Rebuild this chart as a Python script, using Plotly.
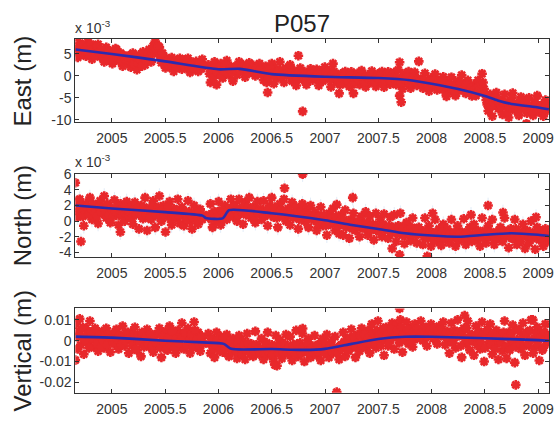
import plotly.graph_objects as go

# ---------------- data ----------------
title = "P057"
start_year = 2004.66          # first weekly epoch
week = 7 / 365.25             # weekly sampling (years)

# East (units of 1e-3 m): weekly epochs, rows ~ quarter years
east_mm = [
    6.5, 4.2, 7.5, 5.0, 6.8, 4.5, 7.8, 5.5, 3.8, 6.9, 5.2, 7.2, 4.3,
    5.8, 3.2, 6.5, 4.0, 5.5, 2.8, 4.8, 6.0, 3.5, 5.2, 2.2, 4.5, 3.0,
    4.6, 2.0, 5.2, 3.3, 1.4, 4.8, 3.0, 5.5, 2.5, 4.2, 6.0, 3.2, 6.8,
    7.8, 5.0, 6.5, 3.0, 4.5, 1.8, 3.8, 2.2, 4.2, 1.0, 3.5, 2.0, 4.0,
    1.5, 3.6, 2.2, 4.0, 0.8, 2.8, 1.6, 3.3, 1.0, 2.5, 3.8, None, None,
    2.5, -1.5, 1.0, 3.2, -2.0, 0.5, 2.8, -0.5, 1.8, 3.5, 0.2, 2.2, -1.2,
    2.0, 0.2, 3.2, 1.2, 2.6, -0.3, 1.8, 3.0, 0.8, 2.4, 0.0, 1.5, 2.8,
    1.0, -1.0, 2.2, -3.8, 0.5, 2.8, -1.8, 1.5, -0.5, 3.2, 0.2, -1.5, 1.8,
    0.8, 2.5, -1.2, 1.2, -2.2, 0.3, 1.8, -0.8, 1.0, -2.0, 0.5, 1.6, -1.0,
    -0.5, 1.5, -2.2, 0.8, -1.2, 2.0, -0.2, 1.2, -2.5, 2.8, 0.4, -1.5, -4.0,
    0.5, -1.8, 1.0, -0.6, -2.4, 0.9, -4.0, -1.2, 0.6, -2.0, 1.2, -0.8, -2.5,
    0.2, -1.5, 1.1, -0.8, -2.4, 0.5, -1.2, 1.0, -2.6, -0.2, 0.9, -1.9, -0.5,
    0.8, -2.0, 1.4, -0.6, -3.0, 0.5, -1.5, 1.0, -2.8, -0.5, 0.8, -2.2, -1.0,
    -0.8, -2.8, 0.6, -1.5, -3.5, -0.5, -2.2, 0.4, -3.2, -1.2, -2.8, -0.2, -3.8,
    -1.5, -3.6, -0.3, -2.5, -4.5, -1.2, -3.2, 0.2, -2.2, -4.0, -1.0, -3.0, -4.6,
    -2.0, -4.5, -1.0, -3.5, 0.5, -3.0, -5.5, -8.0, -4.2, -9.2, -6.0, -3.8, -7.5,
    -5.5, -8.8, -4.2, -7.0, -9.5, -5.8, -3.9, -7.8, -6.2, -9.0, -4.8, -7.2, -5.5,
    -8.5, -5.0, -7.5, -9.0, -6.0, -4.5, -8.2, -6.8, -9.2, -5.5, -7.8,
]
# East, mid-week epochs (half a week later)
east_mid_mm = [
    5.5, 6.2, 4.8, 7.0, 5.8, 6.5, 5.0, 7.2, 6.0, 4.6, 6.8, 5.4, 6.0,
    4.2, 5.0, 3.8, 5.6, 4.6, 3.6, 6.2, 4.0, 5.0, 3.4, 4.6, 3.8, 4.4,
    3.5, 4.0, 2.8, 4.4, 3.0, 3.8, 2.2, 4.0, 3.6, 5.0, 4.4, 5.2, 5.6,
    6.0, 6.8, 4.6, 5.2, 3.0, 3.4, 2.6, 3.2, 2.4, 2.8, 2.2, 3.0, 2.6,
    2.6, 2.0, 3.0, 2.2, 2.4, 1.8, 2.6, 2.0, 2.8, 1.6, 2.2, None, None,
    0.5, 1.5, -0.5, 1.8, 0.8, 2.0, 0.0, 1.2, 2.5, 0.6, 1.6, 0.8, 1.4,
    1.4, 2.2, 1.0, 2.0, 1.2, 1.6, 0.8, 2.0, 1.6, 1.0, 1.8, 0.6, 1.4,
    0.4, 0.8, -1.5, -0.5, 1.6, 0.6, 0.0, 0.8, 1.2, 0.0, 1.4, 0.4, 0.6,
    0.0, 0.6, -0.4, 0.2, -0.8, 0.8, 0.2, -0.2, 0.4, -0.6, 0.0, 0.4, -0.2,
    -0.4, 0.2, -0.8, 0.4, -0.6, 0.8, 0.0, -0.8, 0.4, 1.0, -0.5, -1.0, -2.0,
    -0.6, 0.0, -0.8, -1.2, 0.0, -2.0, -1.5, -0.4, -0.8, -0.2, -0.6, -1.4, -0.2,
    -0.6, -0.2, -1.0, -1.4, -0.4, -0.8, 0.0, -1.2, -1.0, -0.2, -0.8, -1.2, -0.4,
    -0.8, -0.4, -1.2, -1.6, -0.6, -0.8, -0.2, -1.6, -1.0, -0.4, -1.4, -0.6, -1.2,
    -1.6, -1.0, -2.0, -2.4, -1.2, -1.8, -1.0, -2.0, -1.6, -2.4, -1.2, -2.0, -2.6,
    -2.6, -2.0, -3.0, -3.4, -2.4, -2.8, -1.6, -3.2, -2.6, -2.0, -3.6, -2.8, -3.4,
    -3.2, -2.8, -2.4, -1.8, -1.5, -4.2, -6.5, -5.5, -7.0, -6.0, -5.0, -5.6, -6.2,
    -7.0, -6.2, -6.0, -8.2, -7.2, -5.0, -6.5, -7.0, -8.0, -6.0, -6.8, -6.4, -7.5,
    -6.8, -7.0, -8.0, -7.2, -6.6, -7.6, -7.0, -8.0, -7.4, -6.6, -7.2,
]
east_out_t = [2004.657, 2006.75, 2006.79, 2007.70, 2007.70, 2007.715, 2007.88, 2008.14, 2008.89]
east_out_mm = [8.9, 4.6, -8.1, 3.1, -4.5, -6.0, 3.3, -4.7, -10.9]
east_fit_t = [2004.66, 2005.0, 2005.5, 2006.0, 2006.2, 2006.5, 2007.0, 2007.5, 2007.8,
              2008.0, 2008.25, 2008.5, 2008.62, 2008.75, 2009.0, 2009.1]
east_fit_mm = [6.0, 5.0, 3.3, 1.5, 1.6, 0.4, -0.2, -0.5, -1.0,
               -1.8, -3.0, -4.6, -5.6, -6.4, -7.2, -7.6]

# North (units of 1e-3 m)
north_mm = [
    2.5, 0.5, 2.8, 1.2, -0.6, 2.2, 1.0, 3.0, 0.2, 2.0, 1.5, -0.3, 2.6,
    1.0, 3.2, 0.4, 2.0, -0.2, 1.5, 2.7, 0.8, -0.5, 2.2, 1.2, 0.0, 2.5,
    0.6, 1.8, -0.4, 2.4, 1.0, -1.0, 2.0, 0.3, 3.0, -1.2, 1.5, 0.2, 2.6,
    -0.8, 1.2, 3.2, 0.0, 2.0, -1.4, 0.8, 2.5, -0.5, 1.6, 0.4, 2.8, -0.3,
    1.8, -0.6, 1.2, 2.6, 0.0, -1.0, 2.0, 0.6, -0.4, 1.5, 0.2, None, None,
    0.5, 2.2, -0.8, 1.2, 0.0, 2.5, -0.5, 1.0, 2.0, 0.2, 1.6, 2.8, 0.6,
    2.0, 0.0, 2.8, 1.0, -0.4, 2.4, 1.4, 3.0, 0.4, 1.8, -0.2, 2.5, 1.1,
    0.2, 2.6, 1.0, -0.6, 2.0, 3.0, 0.5, 1.5, -0.8, 2.2, 0.8, 2.8, 0.0,
    1.6, -0.5, 2.4, 0.6, 1.8, -1.0, 1.2, 2.2, 0.0, 1.5, -0.8, 2.0, 0.4,
    1.2, -1.2, 0.6, 1.8, -0.6, 0.2, -1.8, 1.0, -0.2, 1.6, -1.2, 0.4, -1.6,
    0.8, -1.8, 1.4, -0.6, -2.2, 0.2, 1.0, -1.2, -0.2, -2.0, 0.6, -0.8, 1.2,
    -1.8, 0.6, -0.5, -2.4, 1.0, -1.2, 0.2, -2.0, 0.9, -0.8, -2.2, 0.5, -1.5,
    0.8, -2.6, -0.6, 1.0, -1.8, -2.9, -0.2, -1.2, -2.5, 0.4, -1.6, -2.8, -0.8,
    -1.2, -3.0, 0.4, -2.0, -0.6, -3.2, -1.5, 0.2, -2.6, -1.0, -3.1, -0.4, -2.2,
    -1.0, -2.8, 0.2, -1.8, -3.2, -0.6, -2.4, -1.4, 0.3, -3.0, -2.0, -0.8, -2.6,
    -0.4, -2.4, -1.2, -3.2, 0.4, -1.8, -2.8, -0.6, -2.0, 0.2, -3.0, -1.4, -2.2,
    -0.8, -2.6, 0.4, -1.6, -3.4, -1.0, -2.2, 0.2, -3.0, -1.4, -2.6, -0.4, -3.5,
    -1.2, -2.8, 0.0, -2.0, -3.6, -0.8, -2.4, -1.6, -3.2, -1.0, -2.6,
]
north_mid_mm = [
    1.6, 1.2, 2.0, 0.6, 1.4, 1.8, 0.8, 1.6, 2.2, 1.0, 0.6, 1.8, 1.2,
    1.8, 1.4, 2.2, 0.8, 1.6, 0.6, 1.2, 2.0, 1.4, 0.6, 1.8, 1.0, 1.4,
    1.2, 0.4, 1.4, 0.8, 1.6, 1.0, 0.6, 1.8, 0.8, 1.4, 0.4, 2.0, 1.0,
    0.8, 1.8, 0.4, 1.4, 0.6, 1.2, 1.8, 0.2, 1.0, 0.6, 1.4, 0.8, 1.2,
    0.6, 1.0, 0.2, 1.2, 0.8, 0.4, 1.0, 0.2, 1.2, 0.6, 0.8, None, None,
    0.8, 0.2, 1.0, 0.4, 1.2, 0.6, 1.4, 0.2, 0.8, 1.2, 0.6, 1.4, 1.8,
    1.4, 0.8, 1.6, 1.2, 2.0, 0.8, 1.8, 1.2, 1.6, 0.6, 1.4, 1.0, 1.6,
    1.2, 0.6, 1.4, 1.6, 0.8, 1.2, 1.8, 0.4, 1.0, 1.4, 0.6, 1.2, 1.0,
    0.8, 1.2, 0.4, 1.0, 0.6, 0.2, 1.2, 0.6, 1.0, 0.4, 0.8, 0.2, 0.6,
    0.2, -0.4, 0.6, 0.0, 0.8, -0.6, 0.2, -0.4, 0.4, -0.2, 0.6, -0.6, 0.0,
    -0.4, 0.2, -0.8, -0.2, -0.6, -1.0, -0.2, -0.6, 0.0, -0.8, -0.4, -1.0, -0.2,
    -0.8, -1.2, -0.4, -1.0, -0.6, -1.4, -0.8, -0.4, -1.2, -1.0, -0.6, -1.4, -0.8,
    -1.2, -1.6, -0.8, -1.4, -1.0, -1.8, -1.2, -1.6, -0.8, -1.4, -1.8, -1.0, -1.6,
    -1.6, -2.0, -1.2, -2.2, -1.6, -1.8, -2.4, -1.4, -2.0, -1.8, -1.4, -2.2, -1.6,
    -2.0, -1.6, -2.2, -1.4, -2.0, -2.4, -1.6, -2.2, -1.8, -1.4, -2.2, -1.8, -2.0,
    -1.8, -1.4, -2.0, -1.6, -2.2, -1.2, -1.8, -2.0, -1.4, -1.8, -2.2, -1.6, -1.4,
    -1.6, -1.2, -2.0, -1.8, -1.4, -2.2, -1.6, -1.0, -1.8, -2.0, -1.4, -1.6, -2.0,
    -1.8, -1.4, -2.2, -1.6, -2.0, -1.2, -1.8, -2.2, -1.6, -2.0, -1.8,
]
north_out_t = [2004.657, 2004.71, 2005.08, 2006.62, 2006.79, 2007.11, 2007.26, 2007.63,
               2007.70, 2007.96, 2008.01, 2008.37, 2008.53, 2008.67, 2008.98]
north_out_mm = [4.9, -2.6, -1.4, 4.2, 6.0, 2.1, 3.0, -3.5,
                -4.3, -4.5, 1.0, 0.8, 2.0, 1.1, 0.5]
north_fit_t = [2004.66, 2005.0, 2005.5, 2005.85, 2005.88, 2006.04, 2006.1, 2006.5, 2007.0,
               2007.25, 2007.5, 2007.75, 2008.0, 2008.25, 2008.5, 2008.75, 2009.0, 2009.1]
north_fit_mm = [2.0, 1.6, 1.15, 0.7, 0.4, 0.35, 1.4, 1.0, 0.1,
                -0.5, -1.0, -1.55, -1.85, -2.0, -1.75, -1.55, -1.75, -1.9]

# Vertical (units of 1e-3 m)
vert_mm = [
    8.0, -4.0, 10.5, 2.0, -6.5, 6.0, -1.0, 9.5, 3.5, -3.0, 5.0, -5.0, 1.5,
    4.5, -3.5, 6.0, 0.5, -5.5, 3.0, -1.5, 5.5, -4.0, 2.0, 7.0, -2.5, 1.0,
    -6.0, 4.0, -1.0, 6.5, -4.5, 2.0, -7.5, 3.5, 0.0, 5.5, -3.0, 1.5, -5.5,
    3.0, -2.0, 6.0, -8.0, 0.5, 4.5, -4.5, 7.0, -1.5, 2.5, -6.0, 5.0, -3.0,
    8.5, -4.0, 2.5, 6.0, -6.0, 0.0, 9.0, -2.5, 4.0, -5.0, 1.5, None, None,
    3.5, -6.0, 0.5, -8.0, 4.0, -3.0, 2.0, -5.5, -1.0, 3.0, -7.5, -2.5, 1.0,
    -3.0, -8.5, 2.5, -6.0, 0.0, -9.0, 3.5, -4.5, -1.5, -7.5, 4.5, -2.5, -6.5,
    1.0, -9.0, -4.0, 4.0, -7.0, -2.0, -10.0, 2.5, -5.5, 0.5, -8.5, -3.0, 3.0,
    -6.5, 2.0, -9.5, -3.0, 5.0, -7.5, -1.0, 3.5, -10.0, -4.5, 1.0, -8.0, -2.5,
    2.5, -7.0, -2.0, -9.5, 1.0, -4.5, 3.0, -8.0, -0.5, -6.0, 2.0, -3.5, -9.0,
    -2.0, 4.0, -7.5, 1.0, -4.0, 5.5, -1.0, -8.0, 3.0, -5.0, 6.0, 0.0, -3.5,
    5.0, -6.0, 8.0, 1.0, -3.5, 9.5, -1.0, 4.0, -7.0, 6.5, -2.5, 2.5, 8.5,
    -4.0, 7.5, 2.0, 10.0, -5.5, 4.5, 9.0, -1.5, 6.0, -3.0, 8.0, 1.0, 5.0,
    9.5, 0.0, 6.0, -2.5, 3.5, 8.0, 1.0, 5.0, -1.5, 7.0, 2.5, 9.0, -2.0,
    4.5, -6.0, 8.5, 0.5, -3.5, 10.0, 2.5, -8.0, 6.0, -1.5, 9.5, -4.5, 3.0,
    -7.0, 7.0, 1.0, -4.0, 9.0, -10.0, 3.5, -2.0, 8.0, -6.5, 0.0, 5.0, -9.0,
    2.0, -5.0, 9.5, -8.5, 4.0, -1.5, 7.5, -10.5, 0.5, 5.5, -4.0, 8.5, -7.0,
    3.0, -2.5, 10.0, -6.0, 1.0, 6.5, -9.5, 4.0, -3.5, 8.0, -1.0,
]
vert_mid_mm = [
    2.0, 4.5, -2.0, 6.5, 0.0, 3.0, -3.5, 4.0, 1.0, 6.0, -1.5, 2.5, -3.0,
    0.0, 2.5, -2.0, 3.5, 1.0, -1.0, 4.5, 0.5, 2.5, -2.0, 3.0, 0.0, 4.0,
    1.0, -2.5, 3.0, -4.0, 2.5, -0.5, 4.0, -3.0, 2.0, -1.5, 3.5, -2.5, 0.5,
    -1.0, 3.5, -3.5, 2.0, -1.0, -4.0, 1.5, -2.0, 4.5, -3.5, 1.0, -1.0, 3.0,
    2.0, 4.0, -2.5, 0.0, 3.0, -3.5, 5.0, 1.0, -2.0, 2.0, -1.5, None, None,
    -1.5, 1.0, -4.0, -2.0, 0.5, -5.0, -1.0, 1.5, -4.0, -2.0, -0.5, -5.0, -3.0,
    -5.0, -1.0, -3.5, -6.5, -2.0, -4.5, -1.0, -6.5, -3.0, -5.0, -2.0, -4.0, -6.0,
    -3.5, -6.0, -1.0, -5.0, -3.5, -7.0, -4.0, -2.0, -6.5, -3.0, -5.5, -1.5, -4.5,
    -3.0, -5.0, -2.0, -6.5, -1.5, -4.0, -6.0, -3.0, -5.0, -1.0, -6.0, -3.5, -5.5,
    -4.5, -2.0, -5.5, -3.5, -6.0, -1.5, -4.0, -2.5, -5.0, -3.0, -4.5, -6.0, -2.5,
    -4.0, -0.5, -3.0, -5.0, 1.5, -2.0, 2.0, -3.5, -1.0, 2.5, -2.5, 3.0, -1.0,
    1.5, -1.5, 3.5, -0.5, 5.0, 2.5, -2.5, 6.0, 0.5, 3.0, -1.0, 5.5, 1.5,
    2.5, 5.0, -1.0, 6.5, 3.0, 0.0, 5.5, 2.0, -0.5, 4.0, 3.5, 6.0, 1.5,
    4.0, 3.0, 6.5, 2.0, 5.0, 3.5, 6.0, 1.5, 4.5, 3.0, 5.5, 2.0, 4.0,
    1.0, 3.5, -1.0, 5.0, 2.0, 4.0, -2.5, 3.0, 1.0, 6.0, -0.5, 2.5, 0.0,
    2.0, -2.0, 4.5, -0.5, 3.0, -3.5, 5.5, 1.0, -2.0, 3.5, -4.0, 2.0, -1.0,
    -1.0, 4.0, -3.0, 1.5, -4.5, 3.5, 0.0, -3.0, 5.0, -1.5, 2.0, -2.5, 4.0,
    -1.0, 5.0, 0.5, -3.5, 3.5, -2.0, 1.5, -4.5, 4.0, 0.0, 2.5,
]
vert_out_t = [2004.657, 2006.53, 2006.55, 2006.79, 2007.11, 2007.70, 2008.31, 2008.79, 2008.95]
vert_out_mm = [-9.3, -11.6, -12.0, 5.9, -24.7, 15.5, 12.1, -21.2, 10.0]
vert_fit_t = [2004.66, 2005.0, 2005.5, 2005.85, 2006.05, 2006.12, 2006.5, 2006.8, 2007.0,
              2007.25, 2007.5, 2007.75, 2008.0, 2008.5, 2009.0, 2009.1]
vert_fit_mm = [2.0, 1.5, 0.0, -0.8, -1.5, -3.9, -4.0, -4.4, -3.9,
               -1.5, 0.8, 1.9, 1.9, 1.2, 0.3, 0.0]

# formal errors (units of 1e-3 m), shown as faint bars
east_sigma_mm = 1.2
north_sigma_mm = 1.0
vert_sigma_mm = 2.5

x_ticks = [2005, 2005.5, 2006, 2006.5, 2007, 2007.5, 2008, 2008.5, 2009]
x_tick_labels = ["2005", "2005.5", "2006", "2006.5", "2007", "2007.5", "2008", "2008.5", "2009"]
east_ticks = [-10, -5, 0, 5]
north_ticks = [-4, -2, 0, 2, 4, 6]
vert_ticks = [-0.02, -0.01, 0, 0.01]
vert_tick_labels = ["-0.02", "-0.01", "0", "0.01"]

# ---------------- figure ----------------
W, H = 558, 423
RED = "#e8282b"
BLUE = "#2b2bb0"
HALO = "#e2ecf7"
FONT = "Liberation Sans, Arial, sans-serif"

n_weeks = len(east_mm)
weeks = [start_year + i * week for i in range(n_weeks)]
mids = [start_year + (i + 0.5) * week for i in range(n_weeks)]

panels = [
    ("East (m)", east_mm, east_mid_mm, east_out_t, east_out_mm, east_fit_t, east_fit_mm,
     east_sigma_mm, False, [-10.6, 8.4], east_ticks, [str(v) for v in east_ticks], (32, 118)),
    ("North (m)", north_mm, north_mid_mm, north_out_t, north_out_mm, north_fit_t, north_fit_mm,
     north_sigma_mm, False, [-4.6, 6.05], north_ticks, [str(v) for v in north_ticks], (171, 257)),
    ("Vertical (m)", vert_mm, vert_mid_mm, vert_out_t, vert_out_mm, vert_fit_t, vert_fit_mm,
     vert_sigma_mm, True, [-0.0250, 0.0155], vert_ticks, vert_tick_labels, (310, 397)),
]

fig = go.Figure()
x0, x1 = 76, 554
annotations = []
for k, (label, vals, mvals, ot, ov, ft, fv, sig, to_m, yr, yt, ytl, (top, bot)) in enumerate(panels):
    n = k + 1
    xa = "x" if n == 1 else f"x{n}"
    ya = "y" if n == 1 else f"y{n}"
    s = 1e-3 if to_m else 1.0
    conv = lambda arr: [None if v is None else v * s for v in arr]
    xs = weeks + mids + ot
    ys = conv(vals) + conv(mvals) + conv(ov)
    fig.add_trace(go.Scatter(
        x=xs, y=ys, mode="markers", xaxis=xa, yaxis=ya, showlegend=False,
        marker=dict(symbol="asterisk-open", size=8, color=RED,
                    line=dict(color=RED, width=2.6)),
        error_y=dict(type="constant", value=sig * s, color=HALO, thickness=1, width=0),
    ))
    fig.add_trace(go.Scatter(
        x=ft, y=conv(fv), mode="lines", xaxis=xa, yaxis=ya, showlegend=False,
        line=dict(color=BLUE, width=2.6, shape="spline", smoothing=0.6),
    ))
    axis_common = dict(showline=True, linecolor="#333333", linewidth=1, mirror="ticks",
                       ticks="inside", ticklen=4, tickcolor="#333333", showgrid=False,
                       zeroline=False, ticklabeloverflow="allow",
                       tickfont=dict(family=FONT, size=14, color="#333333"))
    fig.update_layout(**{
        ("xaxis" if n == 1 else f"xaxis{n}"): dict(
            domain=[x0 / W, x1 / W], anchor=ya, range=[2004.657, 2009.102],
            tickvals=x_ticks, ticktext=x_tick_labels, ticklabelstandoff=3, **axis_common),
        ("yaxis" if n == 1 else f"yaxis{n}"): dict(
            domain=[1 - bot / H, 1 - top / H], anchor=xa, range=yr,
            tickvals=yt, ticktext=ytl, **axis_common),
    })
    annotations.append(dict(
        text=label, xref="paper", yref="paper", x=23 / W, y=1 - (top + bot) / 2 / H,
        textangle=-90, showarrow=False, font=dict(family=FONT, size=24, color="#222222"),
        xanchor="center", yanchor="middle"))
    if not to_m:
        annotations.append(dict(
            text="x 10<sup>-3</sup>", xref="paper", yref="paper", x=74 / W, y=1 - (top - 1.5) / H,
            showarrow=False, font=dict(family=FONT, size=14, color="#333333"),
            xanchor="left", yanchor="bottom"))

annotations.append(dict(
    text=title, xref="paper", yref="paper", x=305 / W, y=1 - 16.5 / H,
    showarrow=False, font=dict(family=FONT, size=24, color="#222222"),
    xanchor="center", yanchor="middle"))

fig.update_layout(
    width=W, height=H, margin=dict(l=0, r=0, t=0, b=0),
    paper_bgcolor="white", plot_bgcolor="white",
    annotations=annotations,
)

fig.write_html("out.html", config={"displayModeBar": False},
               post_script="document.body.style.margin='0px';")
